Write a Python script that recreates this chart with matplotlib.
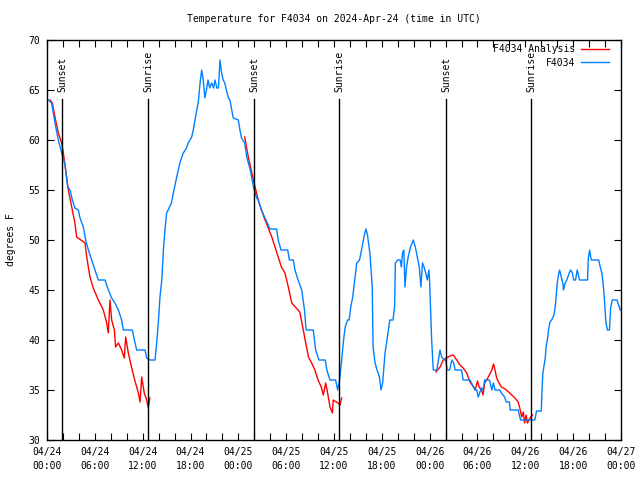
#!/usr/bin/env python3

import matplotlib
matplotlib.use("Agg")
import matplotlib.pyplot as plt

# hours since 2024-04-24 00:00 UTC, temperature in F
obs_hours = [0.0, 0.17, 0.58, 1.0, 1.42, 1.84, 2.26, 2.6, 2.89, 3.18, 3.5, 3.93, 4.14, 4.56, 4.85,
             5.19, 5.6, 6.02, 6.44, 7.27, 7.7, 8.1, 8.53, 8.95, 9.36, 9.57, 10.7, 10.96, 11.25, 12.3,
             12.5, 12.9, 13.55, 13.76, 13.96, 14.17, 14.4, 14.6, 14.8, 15.0, 15.2, 15.6, 15.85, 16.27,
             16.7, 17.1, 17.5, 17.7, 18.15, 18.35, 18.56, 18.8, 18.98, 19.2, 19.4, 19.6, 19.8, 20.0,
             20.2, 20.4, 20.66, 20.9, 21.07, 21.3, 21.5, 21.7, 21.9, 22.1, 22.3, 22.5, 22.76, 22.95,
             23.17, 23.37, 24.0, 24.2, 24.4, 24.8, 25.05, 25.5, 25.9, 26.3, 26.5, 26.9, 27.35, 27.97,
             28.8, 29.0, 29.35, 30.2, 30.4, 30.9, 31.1, 31.5, 31.95, 32.3, 32.5, 33.4, 33.7, 34.1,
             34.9, 35.1, 35.5, 36.2, 36.46, 36.7, 36.96, 37.2, 37.4, 37.7, 37.9, 38.1, 38.35, 38.6,
             38.85, 39.2, 39.5, 39.76, 40.0, 40.2, 40.5, 40.8, 40.9, 41.15, 41.4, 41.7, 41.9, 42.1,
             42.4, 42.7, 43.0, 43.4, 43.6, 43.7, 44.0, 44.3, 44.45, 44.6, 44.76, 44.9, 45.1, 45.3,
             45.6, 45.95, 46.2, 46.45, 46.7, 46.9, 47.1, 47.3, 47.5, 47.7, 47.9, 48.0, 48.25, 48.45,
             48.9, 49.1, 49.3, 49.5, 49.8, 50.0, 50.2, 50.5, 50.78, 51.0, 51.2, 52.0, 52.2, 53.05,
             53.25, 53.7, 53.9, 54.1, 54.3, 54.5, 54.7, 54.9, 55.5, 55.8, 56.0, 56.2, 56.8, 57.0,
             57.4, 57.6, 58.0, 58.1, 59.1, 59.3, 59.4, 61.2, 61.4, 62.0, 62.1, 62.2, 62.5, 62.6,
             62.8, 62.9, 63.1, 63.3, 63.6, 63.8, 63.9, 64.0, 64.2, 64.3, 64.5, 64.7, 64.8, 65.0,
             65.2, 65.5, 65.7, 65.9, 66.07, 66.3, 66.5, 66.7, 66.8, 67.8, 67.9, 68.07, 68.2, 68.3,
             69.2, 69.4, 69.6, 69.75, 69.9, 70.0, 70.1, 70.3, 70.55, 70.7, 70.9, 71.5, 71.7, 71.9, 72.0]
obs_temp = [64.1, 64.0, 63.7, 61.7, 60.0, 58.7, 57.5, 55.3, 55.0, 54.0, 53.2, 53.0, 52.2, 51.3, 50.0,
            49.0, 48.0, 47.0, 46.0, 46.0, 45.0, 44.2, 43.7, 43.0, 42.0, 41.0, 41.0, 40.0, 39.0, 39.0,
            38.2, 38.0, 38.0, 39.7, 41.7, 44.3, 46.0, 49.0, 51.0, 52.7, 53.0, 53.7, 54.7, 56.3,
            57.8, 58.7, 59.2, 59.7, 60.3, 61.0, 62.0, 63.0, 63.8, 65.7, 67.0, 66.0, 64.2, 65.0,
            66.0, 65.2, 65.7, 65.2, 66.0, 65.2, 65.2, 68.0, 66.7, 66.0, 65.7, 65.0, 64.2, 64.0,
            63.0, 62.2, 62.0, 61.0, 60.2, 59.7, 58.3, 57.0, 55.3, 54.2, 54.0, 53.0, 52.2, 51.1,
            51.1, 50.0, 49.0, 49.0, 48.0, 48.0, 47.0, 46.0, 45.0, 43.0, 41.0, 41.0, 39.0, 38.0,
            38.0, 37.0, 36.0, 36.0, 35.0, 36.0, 38.0, 40.0, 41.3, 42.0, 42.0, 43.3, 44.3, 46.0,
            47.7, 48.0, 49.2, 50.3, 51.1, 50.5, 48.7, 45.3, 39.3, 37.7, 37.0, 36.3, 35.0, 35.7,
            38.7, 40.3, 42.0, 42.0, 43.3, 47.7, 48.0, 48.0, 47.3, 48.7, 49.0, 45.3, 47.3, 48.3,
            49.3, 50.0, 49.3, 48.3, 47.3, 45.3, 47.7, 47.3, 46.7, 46.0, 47.0, 45.7, 40.0, 37.0,
            37.0, 38.0, 39.0, 38.3, 38.0, 38.0, 37.0, 37.0, 38.0, 37.7, 37.0, 37.0, 36.0, 36.0,
            35.7, 35.0, 35.0, 34.3, 34.8, 35.2, 35.0, 36.0, 36.0, 35.0, 35.7, 35.0, 35.0, 34.7,
            34.3, 33.8, 33.8, 33.0, 33.0, 32.3, 32.0, 32.0, 32.9, 32.9, 35.2, 36.7, 38.2, 39.3,
            40.2, 41.0, 41.8, 42.0, 42.5, 43.7, 44.7, 45.7, 46.7, 47.0, 46.3, 45.7, 45.0, 45.7,
            46.0, 46.7, 47.0, 46.7, 46.0, 46.0, 47.0, 46.3, 46.0, 46.0, 48.2, 49.0, 48.3, 48.0,
            48.0, 47.3, 46.7, 45.7, 44.3, 43.0, 41.8, 41.0, 41.0, 43.2, 44.0, 44.0, 43.5, 43.0, 43.0]

# analysis, one run per night
ana1_hours = [0.4, 0.67, 1.0, 1.42, 1.84, 2.05, 2.34, 2.68, 3.1, 3.5, 3.72, 4.77, 4.98, 5.39, 5.8,
              6.44, 7.06, 7.49, 7.69, 7.9, 8.11, 8.45, 8.6, 8.95, 9.36, 9.7, 9.87, 10.2, 10.6,
              11.0, 11.46, 11.67, 11.88, 12.2, 12.5, 12.7, 12.9]
ana1_temp = [64.0, 63.7, 62.3, 60.7, 59.7, 58.7, 57.0, 55.0, 53.3, 51.7, 50.3, 49.7, 48.3, 46.3, 45.2,
             44.0, 43.0, 41.7, 40.7, 44.0, 42.0, 41.0, 39.3, 39.7, 39.0, 38.2, 40.3, 38.7, 37.3,
             36.0, 34.7, 33.8, 36.3, 34.7, 34.0, 33.2, 34.2]
ana2_hours = [24.8, 25.25, 25.7, 26.1, 26.5, 26.9, 27.35, 27.75, 28.2, 28.6, 29.0, 29.4, 29.85, 30.27,
              30.7, 31.7, 32.15, 32.45, 32.8, 33.2, 33.6, 34.0, 34.4, 34.66, 34.96, 35.2, 35.5, 35.8,
              35.9, 36.5, 36.75, 36.96]
ana2_temp = [60.3, 58.3, 56.7, 55.3, 54.0, 53.0, 52.0, 51.2, 50.3, 49.3, 48.3, 47.3, 46.7, 45.3,
             43.7, 42.8, 41.0, 39.7, 38.3, 37.7, 37.0, 36.0, 35.3, 34.5, 35.7, 34.7, 33.3, 32.7,
             34.0, 33.7, 33.5, 34.2]
ana3_hours = [48.8, 49.3, 49.7, 50.1, 50.55, 50.96, 51.4, 51.8, 52.2, 52.65, 53.06, 53.5, 53.7, 54.0,
              54.2, 54.5, 54.7, 54.9, 55.36, 55.8, 56.0, 56.2, 56.4, 56.7, 57.0, 57.45, 57.9, 58.3,
              58.7, 59.1, 59.3, 59.55, 59.75, 59.9, 60.1, 60.25, 60.6, 60.9]
ana3_temp = [36.8, 37.3, 38.0, 38.2, 38.4, 38.5, 38.0, 37.5, 37.2, 36.7, 35.8, 35.3, 35.0, 35.9,
             35.3, 35.0, 34.5, 35.7, 36.3, 37.0, 37.6, 37.0, 36.2, 35.7, 35.3, 35.1, 34.8, 34.5,
             34.2, 33.8, 33.2, 32.3, 32.8, 31.7, 32.5, 31.7, 32.2, 32.5]

sun_hours = [1.93, 12.7, 26.0, 36.68, 50.07, 60.73]
sun_names = ["Sunset", "Sunrise", "Sunset", "Sunrise", "Sunset", "Sunrise"]

tick_hours = list(range(0, 73, 6))
tick_labels = ["04/24\n00:00", "04/24\n06:00", "04/24\n12:00", "04/24\n18:00",
               "04/25\n00:00", "04/25\n06:00", "04/25\n12:00", "04/25\n18:00",
               "04/26\n00:00", "04/26\n06:00", "04/26\n12:00", "04/26\n18:00",
               "04/27\n00:00"]


def main():
    plt.rcParams['font.family'] = ['DejaVu Sans Mono']
    plt.rcParams['font.size'] = 7

    fig = plt.figure(figsize=(6.4, 4.8), dpi=100)
    ax = fig.add_axes([47 / 640, 40 / 480, 574 / 640, 400 / 480])

    ax.plot(ana1_hours, ana1_temp, color='#ff0000', lw=1, label="F4034 Analysis")
    ax.plot(ana2_hours, ana2_temp, color='#ff0000', lw=1)
    ax.plot(ana3_hours, ana3_temp, color='#ff0000', lw=1)
    ax.plot(obs_hours, obs_temp, color='#0080ff', lw=1, label="F4034")

    for h, name in zip(sun_hours, sun_names):
        ax.plot([h, h], [30, 64.1], color='black', lw=1)
        ax.text(h, 64.8, name, rotation=90, ha='center', va='bottom', fontsize=7)

    ax.set_xlim(0, 72)
    ax.set_ylim(30, 70)
    ax.set_xticks(tick_hours)
    ax.set_xticklabels(tick_labels, linespacing=1.5)
    ax.set_xticks(range(0, 73, 2), minor=True)
    ax.set_yticks(range(30, 71, 5))
    ax.tick_params(which='both', direction='in', top=True, right=True, length=5, width=0.8, pad=5)

    for s in ax.spines.values():
        s.set_linewidth(1)

    ax.legend(loc='upper right', bbox_to_anchor=(1.0, 1.018), frameon=False, markerfirst=False,
              handlelength=2.9, handletextpad=0.6, labelspacing=0.35, borderpad=0.3,
              borderaxespad=0.9, fontsize=7)

    fig.text(334 / 640, 1 - 19 / 480, "Temperature for F4034 on 2024-Apr-24 (time in UTC)",
             ha='center', va='center', fontsize=7)
    fig.text(11 / 640, 0.5, "degrees F", rotation=90, ha='center', va='center', fontsize=7)

    fig.savefig("out.png", dpi=100)


if __name__ == '__main__':
    main()
